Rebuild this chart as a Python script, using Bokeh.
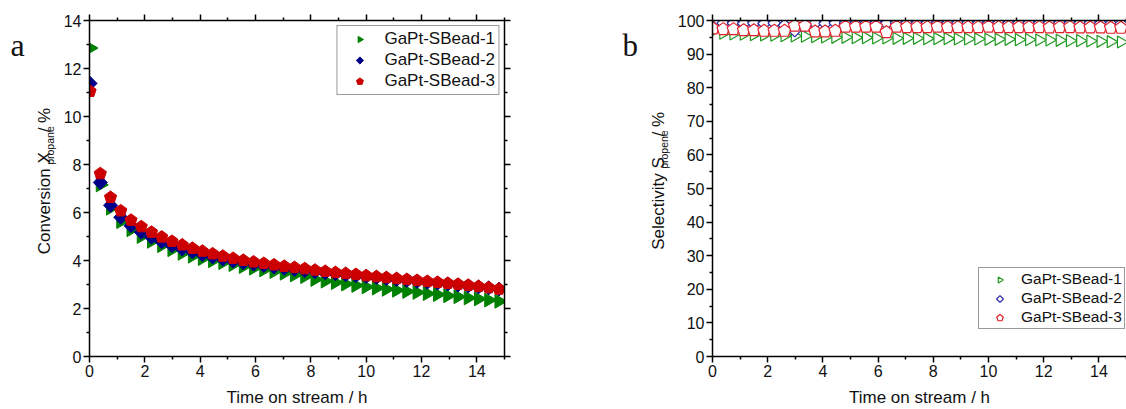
from math import pi
from bokeh.plotting import figure
from bokeh.layouts import row
from bokeh.models import (ColumnDataSource, Range1d, LinearAxis, FixedTicker, Label,
                          Legend, LegendItem, CustomJSTickFormatter)
from bokeh.embed import file_html
from bokeh.resources import INLINE

# ---------------- data ----------------
series_names = ["GaPt-SBead-1", "GaPt-SBead-2", "GaPt-SBead-3"]

time_h = [0.02, 0.39, 0.76, 1.13, 1.50, 1.87, 2.24, 2.61, 2.98, 3.35, 3.72, 4.08, 4.45,
          4.82, 5.19, 5.56, 5.93, 6.30, 6.67, 7.04, 7.41, 7.78, 8.15, 8.52, 8.89, 9.26,
          9.63, 10.00, 10.37, 10.73, 11.10, 11.47, 11.84, 12.21, 12.58, 12.95, 13.32,
          13.69, 14.06, 14.43, 14.80]

conv_1 = [12.85, 7.15, 6.18, 5.62, 5.28, 5.00, 4.80, 4.62, 4.45, 4.30, 4.18, 4.08, 3.99,
          3.91, 3.83, 3.75, 3.68, 3.61, 3.54, 3.47, 3.40, 3.33, 3.21, 3.14, 3.08, 3.02,
          2.96, 2.90, 2.85, 2.80, 2.76, 2.71, 2.67, 2.62, 2.58, 2.53, 2.49, 2.44, 2.40,
          2.35, 2.30]
conv_2 = [11.38, 7.25, 6.30, 5.80, 5.45, 5.18, 4.97, 4.78, 4.62, 4.48, 4.36, 4.25, 4.15,
          4.06, 3.98, 3.91, 3.85, 3.79, 3.73, 3.68, 3.63, 3.58, 3.53, 3.49, 3.45, 3.41,
          3.37, 3.33, 3.29, 3.25, 3.21, 3.17, 3.13, 3.09, 3.06, 3.02, 2.98, 2.94, 2.90,
          2.86, 2.81]
conv_3 = [11.05, 7.62, 6.63, 6.07, 5.68, 5.41, 5.18, 4.98, 4.80, 4.65, 4.51, 4.39, 4.28,
          4.18, 4.09, 4.01, 3.94, 3.88, 3.82, 3.76, 3.71, 3.66, 3.60, 3.55, 3.50, 3.46,
          3.42, 3.37, 3.33, 3.29, 3.25, 3.21, 3.17, 3.13, 3.09, 3.05, 3.01, 2.97, 2.92,
          2.87, 2.81]

sel_1 = [96.9, 96.2, 96.0, 95.9, 95.8, 95.7, 95.6, 95.5, 95.4, 95.3, 95.2, 95.1, 95.0,
         95.0, 94.9, 94.9, 94.8, 94.8, 94.7, 94.7, 94.7, 94.6, 94.6, 94.6, 94.5, 94.5,
         94.5, 94.4, 94.4, 94.4, 94.3, 94.3, 94.2, 94.2, 94.1, 94.0, 94.0, 93.9, 93.8,
         93.7, 93.6]
sel_2 = [98.0, 99.2, 99.2, 99.1, 99.2, 99.1, 99.2, 98.6, 97.0, 98.6, 99.2, 99.1, 99.2,
         99.2, 99.1, 99.2, 99.2, 99.1, 99.2, 99.2, 99.1, 99.2, 99.2, 99.1, 99.2, 99.2,
         99.1, 99.2, 99.2, 99.1, 99.2, 99.2, 99.1, 99.2, 99.2, 99.1, 99.2, 99.2, 99.1,
         99.0, 99.0]
sel_3 = [97.6, 97.4, 97.4, 97.1, 97.1, 96.9, 96.9, 96.9, 98.4, 98.4, 96.7, 96.7, 96.9,
         98.1, 98.1, 98.1, 98.1, 96.5, 98.1, 98.0, 98.0, 98.0, 98.1, 98.0, 98.0, 98.0,
         98.0, 98.1, 98.0, 98.0, 98.0, 98.0, 98.0, 97.9, 98.0, 98.0, 97.9, 97.9, 97.9,
         97.8, 97.8]

x_ticks = [0, 2, 4, 6, 8, 10, 12, 14]
x_minor = [1, 3, 5, 7, 9, 11, 13, 15]
conv_ticks = [0, 2, 4, 6, 8, 10, 12, 14]
conv_minor = [1, 3, 5, 7, 9, 11, 13]
sel_ticks = [0, 10, 20, 30, 40, 50, 60, 70, 80, 90, 100]
sel_minor = [5, 15, 25, 35, 45, 55, 65, 75, 85, 95]

x_title = "Time on stream / h"
conv_title = ("Conversion X", "propane", " / %")
sel_title = ("Selectivity S", "propene", " / %")
panel_tags = ["a", "b"]

# ---------------- style ----------------
FONT = "Liberation Sans"
TXT = "#111111"
H = 409
ADV = {"C": 722, "o": 556, "n": 556, "v": 500, "e": 556, "r": 333, "s": 500, "i": 222,
       " ": 278, "X": 667, "p": 556, "a": 556, "/": 278, "%": 889, "S": 667, "l": 222,
       "c": 500, "t": 278, "y": 500}


def text_width(s, size):
    return sum(ADV.get(c, 556) for c in s) / 1000.0 * size


def style_axis(ax, show_labels=True):
    ax.axis_line_color = "black"
    ax.axis_line_width = 1.5
    ax.major_tick_line_color = "black"
    ax.major_tick_line_width = 1.5
    ax.major_tick_in = 0
    ax.major_tick_out = 6
    ax.minor_tick_line_color = "black"
    ax.minor_tick_line_width = 1.5
    ax.minor_tick_in = 0
    ax.minor_tick_out = 3
    ax.major_label_text_font = FONT
    ax.major_label_text_font_size = "16px"
    ax.major_label_text_color = TXT
    ax.major_label_standoff = 2
    if not show_labels:
        ax.formatter = CustomJSTickFormatter(code="return ''")


def make_panel(width, bl, br, bt, bb, xr, yr, xt, xm, yt, ym):
    p = figure(width=width, height=H, x_range=Range1d(*xr), y_range=Range1d(*yr),
               output_backend="svg", toolbar_location=None, title=None,
               min_border_left=bl, min_border_right=br, min_border_top=bt,
               min_border_bottom=bb)
    p.grid.visible = False
    p.outline_line_color = None
    p.background_fill_color = "white"
    p.border_fill_color = "white"
    xtick = FixedTicker(ticks=xt, minor_ticks=xm)
    ytick = FixedTicker(ticks=yt, minor_ticks=ym)
    p.xaxis.ticker = xtick
    p.yaxis.ticker = ytick
    style_axis(p.xaxis[0])
    style_axis(p.yaxis[0])
    p.xaxis.axis_label = x_title
    p.xaxis.axis_label_text_font = FONT
    p.xaxis.axis_label_text_font_size = "17px"
    p.xaxis.axis_label_text_font_style = "normal"
    p.xaxis.axis_label_text_color = TXT
    p.xaxis.axis_label_standoff = 8
    top = LinearAxis(ticker=xtick)
    style_axis(top, False)
    p.add_layout(top, "above")
    return p


def label_strip(width):
    f = figure(width=width, height=H, x_range=Range1d(0, width), y_range=Range1d(0, H),
               output_backend="svg", toolbar_location=None, title=None, min_border=0,
               x_axis_type=None, y_axis_type=None)
    f.grid.visible = False
    f.outline_line_color = None
    f.background_fill_color = "white"
    f.border_fill_color = "white"
    return f


def add_text(f, cx, page_cy, text, size, angle=0.0, font=FONT):
    # (cx, page_cy): centre of the text box, in pixels of the strip / page
    f.add_layout(Label(x=cx, y=H - page_cy, text=text, angle=angle, text_align="center",
                       text_baseline="middle", text_font=font,
                       text_font_size=f"{size}px", text_color=TXT))


def add_ylabel(f, base_x, page_y_start, parts):
    main, sub, tail = parts
    w1 = text_width(main, 17)
    w2 = text_width(sub, 10.5)
    w3 = text_width(tail, 17)
    mid = 0.3465  # (ascent - descent) / 2 for Liberation Sans
    add_text(f, base_x - mid * 17, page_y_start - w1 / 2, main, 17, angle=pi / 2)
    add_text(f, base_x + 3 - mid * 10.5, page_y_start - w1 - w2 / 2, sub, 10.5,
             angle=pi / 2)
    add_text(f, base_x - mid * 17, page_y_start - w1 - w2 - w3 / 2, tail, 17,
             angle=pi / 2)


def legend_items(rs):
    return [LegendItem(label=n, renderers=[r]) for n, r in zip(series_names, rs)]


# ---------------- panel a ----------------
lab_a = label_strip(60)
add_text(lab_a, 17, 30, panel_tags[0], 32, font="Liberation Serif")
add_ylabel(lab_a, 50, 273.5, conv_title)

pa = make_panel(508, 27, 64, 20, 52, (0, 15), (0, 14),
                x_ticks, x_minor, conv_ticks, conv_minor)
right_a = LinearAxis(ticker=FixedTicker(ticks=conv_ticks, minor_ticks=conv_minor))
style_axis(right_a, False)
pa.add_layout(right_a, "right")

src_a = ColumnDataSource(dict(t=time_h, c1=conv_1, c2=conv_2, c3=conv_3))
ra1 = pa.ngon("t", "c1", source=src_a, radius=8, radius_units="screen", n=3,
              angle=-pi / 2, fill_color="#008000", line_color="#008000")
ra2 = pa.ngon("t", "c2", source=src_a, radius=7, radius_units="screen", n=4,
              angle=0, fill_color="#00008b", line_color="#00008b")
ra3 = pa.ngon("t", "c3", source=src_a, radius=6.4, radius_units="screen", n=5,
              angle=0, fill_color="#cc0000", line_color="#cc0000")

pa.add_layout(Legend(items=legend_items([ra1, ra2, ra3]),
                     location="top_right", margin=5, padding=3, spacing=1,
                     glyph_width=38, glyph_height=18, label_height=18, label_standoff=6,
                     label_text_font=FONT, label_text_font_size="17px",
                     label_text_color=TXT, border_line_color="#333333",
                     border_line_width=1, background_fill_color="white",
                     background_fill_alpha=1))

# ---------------- panel b ----------------
lab_b = label_strip(106)
add_text(lab_b, 61.7, 30, panel_tags[1], 31, font="Liberation Serif")
add_ylabel(lab_b, 96, 269, sel_title)

pb = make_panel(452, 36, 0, 20, 51, (0, 15), (0, 100),
                x_ticks, x_minor, sel_ticks, sel_minor)

src_b = ColumnDataSource(dict(t=time_h, s1=sel_1, s2=sel_2, s3=sel_3))
rb1 = pb.ngon("t", "s1", source=src_b, radius=7, radius_units="screen", n=3,
              angle=-pi / 2, fill_color="white", line_color="#1e9a1e", line_width=1.2)
rb2 = pb.ngon("t", "s2", source=src_b, radius=6.3, radius_units="screen", n=4,
              angle=0, fill_color="white", line_color="#2a2aa8", line_width=1.2)
rb3 = pb.ngon("t", "s3", source=src_b, radius=6.6, radius_units="screen", n=5,
              angle=0, fill_color="white", line_color="#e0202a", line_width=1.2)

pb.add_layout(Legend(items=legend_items([rb1, rb2, rb3]),
                     location=(266, 27), margin=0, padding=2, spacing=1,
                     glyph_width=37, glyph_height=17, label_height=17, label_standoff=3,
                     label_text_font=FONT, label_text_font_size="15.5px",
                     label_text_color=TXT, border_line_color="#333333",
                     border_line_width=1, background_fill_color="white",
                     background_fill_alpha=1))

layout = row(lab_a, pa, lab_b, pb)
open("out.html", "w").write(file_html(layout, INLINE))
